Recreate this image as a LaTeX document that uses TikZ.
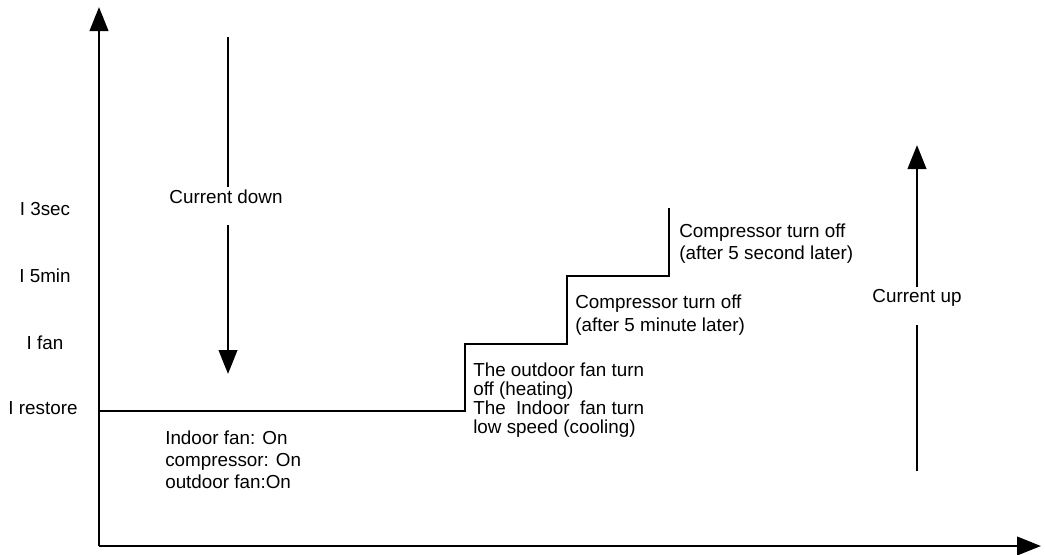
\documentclass[tikz,border=0pt]{standalone}
\usepackage{fontspec}
\setmainfont{Liberation Sans}
\usetikzlibrary{arrows.meta}
\tikzset{
  axis/.style={line width=2pt,-{Triangle[width=0.46cm,length=0.6cm]}},
  curline/.style={line width=2pt},
  levellabel/.style={font=\fontsize{13.4}{15.6}\selectfont,inner sep=0pt},
  note/.style={font=\fontsize{13.4}{15.6}\selectfont,inner sep=0pt,align=left,anchor=north west},
}
\begin{document}
\begin{tikzpicture}[x=0.025cm,y=-0.025cm]
  \useasboundingbox (0,0) rectangle (1045,554);
  % axes
  \coordinate (origin) at (99,546);
  \coordinate (ytip) at (99,7);
  \coordinate (xtip) at (1041,546);
  \draw[axis] (origin) -- (ytip);
  \draw[axis] (origin) -- (xtip);
  % current levels
  \node[levellabel] (i3sec) at (45,209) {I 3sec};
  \node[levellabel] (i5min) at (45,276) {I 5min};
  \node[levellabel] (ifan) at (45,343) {I fan};
  \node[levellabel] (irestore) at (43,408) {I restore};
  % step curve
  \coordinate (s0) at (99,411);
  \coordinate (s1) at (465,411);
  \coordinate (s2) at (567,344);
  \coordinate (s3) at (669,276);
  \coordinate (s4) at (669,208);
  \draw[curline] (s0) -- (s1) |- (s2) |- (s3) -- (s4);
  % notes
  \node[note] (normal) at (165,431) {Indoor fan: On\\compressor: On\\outdoor fan:On};
  \node[note,font=\fontsize{13.4}{13.5}\selectfont] (fanstep) at (473,363)
    {The outdoor fan turn\\off (heating)\\The\ \ Indoor\ \ fan turn\\low speed (cooling)};
  \node[note,font=\fontsize{13.4}{16.2}\selectfont] (minstep) at (575,295)
    {Compressor turn off\\(after 5 minute later)};
  \node[note] (secstep) at (679,224) {Compressor turn off\\(after 5 second later)};
  % current down
  \node[levellabel,anchor=base] (down) at (226,203) {Current down};
  \coordinate (downtop) at (228,37);
  \coordinate (downstart) at (228,225);
  \coordinate (downtip) at (228,374);
  \draw[curline] (downtop) -- (228,187);
  \draw[axis] (downstart) -- (downtip);
  % current up
  \node[levellabel,anchor=base] (up) at (917,302) {Current up};
  \coordinate (upbottom) at (917,471);
  \coordinate (upend) at (917,287);
  \coordinate (upstart) at (917,325);
  \coordinate (uptip) at (917,145);
  \draw[curline] (upbottom) -- (upstart);
  \draw[axis] (upend) -- (uptip);
\end{tikzpicture}
\end{document}
